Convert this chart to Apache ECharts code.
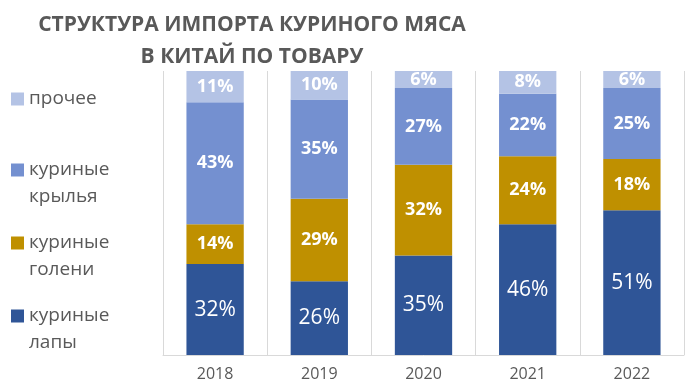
<!DOCTYPE html>
<html>
<head>
<meta charset="utf-8">
<script src="https://cdn.jsdelivr.net/npm/echarts@6/dist/echarts.min.js"></script>
<style>html,body{margin:0;padding:0;background:#fff}#c{width:688px;height:391px}</style>
</head>
<body>
<div id="c"></div>
<script>
const titleText = 'СТРУКТУРА ИМПОРТА КУРИНОГО МЯСА\nВ КИТАЙ ПО ТОВАРУ';
const years = ['2018', '2019', '2020', '2021', '2022'];
const seriesNames = ['куриные лапы', 'куриные голени', 'куриные крылья', 'прочее'];
const lapy = [32, 26, 35, 46, 51];
const goleni = [14, 29, 32, 24, 18];
const krylya = [43, 35, 27, 22, 25];
const prochee = [11, 10, 6, 8, 6];

const colors = ['#2F5597', '#BF9000', '#7490D0', '#B4C3E5'];
const FONT = '"Open Sans", "Noto Sans", sans-serif';
const values = [lapy, goleni, krylya, prochee];

const series = seriesNames.map((name, i) => ({
  name: name,
  type: 'bar',
  stack: 'total',
  barWidth: '55%',
  data: values[i],
  itemStyle: { color: colors[i] },
  label: {
    show: true,
    position: 'inside',
    formatter: '{c}%',
    color: '#fff',
    fontFamily: FONT,
    fontSize: i === 0 ? 21 : 18,
    fontWeight: i === 0 ? 'normal' : 'bold'
  }
}));

const legendTops = [275.5, 202.5, 129.5, 85.5];
const legends = seriesNames.map((name, i) => ({
  data: [name],
  left: 11,
  top: legendTops[i],
  orient: 'vertical',
  padding: 0,
  itemWidth: 13,
  itemHeight: 13,
  itemGap: 6,
  icon: 'rect',
  selectedMode: false,
  formatter: n => (n.indexOf(' ') >= 0 ? ' \n' + n.replace(' ', '\n') : n),
  textStyle: {
    fontFamily: FONT,
    fontSize: 19,
    color: '#595959',
    lineHeight: 27
  }
}));

const chart = echarts.init(document.getElementById('c'));
chart.setOption({
  animation: false,
  color: colors,
  title: {
    text: titleText,
    left: 247,
    top: 4,
    textAlign: 'center',
    textStyle: {
      fontFamily: FONT,
      fontSize: 21,
      fontWeight: 'bold',
      color: '#595959',
      lineHeight: 32,
      align: 'center'
    }
  },
  legend: legends,
  grid: { left: 163, right: 4, top: 71, bottom: 36 },
  xAxis: {
    type: 'category',
    data: years,
    axisTick: { show: false },
    axisLine: { lineStyle: { color: '#D9D9D9' } },
    splitLine: { show: true, lineStyle: { color: '#D9D9D9' } },
    axisLabel: { fontFamily: FONT, fontSize: 16, color: '#595959', margin: 11 }
  },
  yAxis: {
    type: 'value',
    min: 0,
    max: 100,
    show: false
  },
  series: series
});
</script>
</body>
</html>
